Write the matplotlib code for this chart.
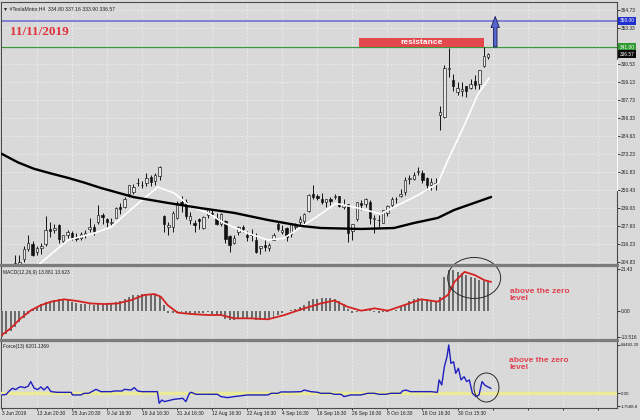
import numpy as np
import matplotlib
matplotlib.use("Agg")
import matplotlib.pyplot as plt
from matplotlib.patches import Ellipse, Rectangle, FancyArrowPatch
from matplotlib.lines import Line2D

# ---------------- data ----------------
opens = [185.0, 180.0, 194.0, 198.0, 203.0, 207.0, 213.0, 216.0, 211.0, 214.0,
         216.0, 226.0, 225.0, 228.0, 218.0, 222.0, 223.0, 221.0, 220.0, 222.0,
         226.0, 227.0, 230.0, 234.5, 232.0, 229.5, 233.0, 239.5, 240.0, 248.0,
         249.5, 255.0, 254.0, 255.0, 258.5, 256.0, 259.5, 234.0, 226.9, 227.1,
         232.9, 243.0, 242.7, 231.4, 229.6, 231.9, 226.5, 234.4, 236.1, 232.9,
         228.8, 231.0, 221.5, 216.7, 224.0, 227.3, 222.0, 222.8, 219.0, 213.6,
         215.7, 213.8, 219.0, 229.2, 224.1, 226.2, 222.5, 227.2, 230.0, 230.8,
         237.4, 247.8, 246.9, 245.0, 243.0, 245.0, 246.0, 246.5, 240.0, 241.5,
         224.5, 232.0, 242.0, 241.5, 243.0, 232.0, 231.6, 229.8, 235.8, 241.0,
         245.0, 247.0, 249.0, 257.7, 257.4, 262.0, 261.0, 258.0, 254.0, 254.5,
         298.0, 297.0, 327.5, 320.0, 313.0, 313.1, 316.3, 315.0, 319.6, 318.0,
         329.1, 334.8]
highs = [186.0, 194.0, 198.0, 209.0, 209.5, 215.0, 222.0, 218.0, 215.0, 217.0,
         234.0, 230.0, 229.0, 229.0, 222.0, 225.0, 224.5, 223.0, 224.0, 225.0,
         233.0, 229.0, 241.0, 236.0, 233.0, 233.0, 240.0, 242.0, 246.0, 254.0,
         254.5, 258.0, 256.0, 261.0, 260.0, 261.0, 266.0, 234.5, 230.0, 237.0,
         243.5, 246.7, 244.5, 236.3, 231.4, 232.5, 234.0, 239.0, 238.0, 235.8,
         236.0, 231.5, 221.8, 222.0, 227.9, 228.2, 224.5, 225.5, 223.5, 215.0,
         218.8, 217.0, 223.4, 230.0, 228.2, 226.8, 229.8, 229.6, 233.8, 235.9,
         248.0, 253.5, 248.1, 248.4, 245.0, 246.0, 248.0, 247.0, 245.0, 241.9,
         229.0, 243.0, 244.0, 245.5, 244.0, 234.5, 234.8, 238.0, 241.0, 246.0,
         246.2, 251.0, 258.5, 260.0, 262.1, 264.8, 263.0, 259.0, 258.3, 258.0,
         304.0, 330.0, 340.8, 324.0, 318.8, 319.0, 316.6, 321.2, 323.5, 326.7,
         341.0, 337.16]
lows = [176.5, 178.0, 190.0, 197.0, 202.0, 205.0, 212.0, 208.5, 209.0, 210.0,
        215.0, 221.0, 223.0, 217.0, 216.0, 220.0, 218.5, 218.0, 219.0, 220.0,
        224.0, 222.0, 229.0, 229.0, 227.0, 228.0, 232.5, 235.0, 239.0, 246.0,
        248.0, 253.0, 251.5, 253.0, 253.0, 254.0, 257.0, 224.0, 222.0, 224.0,
        232.0, 236.6, 231.8, 229.2, 224.1, 225.8, 225.5, 232.5, 233.8, 228.5,
        227.6, 216.7, 211.0, 216.0, 222.0, 224.0, 218.0, 218.0, 210.5, 209.9,
        212.0, 211.9, 218.7, 224.7, 222.6, 218.4, 220.9, 225.2, 227.7, 228.8,
        236.4, 244.5, 244.2, 241.9, 240.0, 241.0, 244.5, 239.5, 238.5, 217.5,
        219.0, 231.0, 238.0, 239.5, 229.0, 223.5, 226.5, 229.5, 234.0, 239.5,
        242.0, 246.0, 247.5, 254.1, 256.9, 260.1, 255.0, 250.8, 250.7, 250.6,
        288.6, 296.1, 322.0, 313.5, 310.5, 309.9, 309.5, 314.3, 314.7, 314.5,
        328.6, 333.9]
closes = [179.0, 193.6, 196.6, 204.5, 205.0, 212.9, 217.1, 209.3, 213.9, 214.9,
          225.0, 224.7, 226.4, 219.6, 221.9, 223.6, 219.8, 219.3, 222.8, 223.5,
          227.2, 224.6, 234.9, 233.1, 230.3, 230.1, 238.9, 238.6, 245.1, 253.5,
          252.4, 254.9, 253.5, 258.2, 255.7, 260.2, 264.9, 228.8, 228.0, 235.8,
          242.3, 241.6, 233.9, 234.3, 228.3, 230.8, 233.4, 238.3, 235.0, 229.0,
          235.0, 219.6, 215.6, 219.9, 226.8, 225.9, 220.8, 222.2, 211.4, 215.0,
          214.1, 215.6, 221.7, 225.6, 225.0, 220.7, 229.6, 227.5, 231.8, 235.5,
          247.1, 245.9, 245.2, 242.8, 244.8, 243.5, 246.6, 240.6, 241.2, 223.2,
          228.7, 242.6, 240.9, 244.7, 233.0, 233.0, 231.4, 237.7, 240.1, 244.5,
          244.7, 247.9, 257.0, 257.9, 259.8, 262.0, 257.0, 253.5, 255.6, 254.7,
          299.7, 328.1, 327.7, 316.2, 315.0, 314.9, 313.3, 317.5, 317.2, 326.6,
          335.5, 336.57]

# fast (white) and slow (black) moving averages: bar index / price
ma_fast_bar = [8.0, 9.6, 15.1, 21.0, 24.9, 30.1, 35.6, 39.3, 43.2, 47.0, 50.7, 56.2,
               60.7, 64.4, 68.3, 72.8, 76.2, 80.4, 86.5, 89.5, 95.0, 99.5, 101.8,
               105.3, 108.6, 111.2]
ma_fast_val = [202.0, 206.0, 218.8, 223.0, 227.0, 239.7, 252.4, 248.6, 239.7, 236.0,
               229.6, 223.0, 218.8, 220.0, 227.0, 235.3, 242.0, 239.7, 235.3, 239.7,
               247.3, 254.7, 269.5, 290.0, 311.0, 321.5]
ma_slow_bar = [0.0, 3.7, 7.3, 11.2, 15.1, 18.8, 22.6, 30.1, 37.9, 45.4, 53.0, 60.7,
               68.3, 72.8, 82.0, 89.5, 94.1, 99.5, 103.2, 107.8, 111.6]
ma_slow_val = [273.4, 268.0, 264.0, 261.0, 258.2, 255.2, 251.8, 246.0, 242.3, 239.0,
               236.0, 231.5, 227.7, 226.4, 225.8, 226.4, 229.6, 232.8, 237.8, 242.3,
               246.0]

price_ticks = [364.73, 353.33, 341.93, 330.53, 319.13, 307.73, 296.33, 284.63,
               273.23, 261.83, 250.43, 239.03, 227.63, 216.23, 204.83]
price_labels = ["364.73", "353.33", "", "330.53", "319.13", "307.73", "296.33", "284.63",
                "273.23", "261.83", "250.43", "239.03", "227.63", "216.23", "204.83"]
level_target = 358.00
level_resist = 341.00
last_price = 336.57

macd_hist = [-13.3, -11.8, -10.2, -8.5, -6.0, -3.5, -1.5, 0.8, 2.0, 3.5,
             4.5, 5.0, 5.6, 5.8, 6.1, 5.6, 4.6, 4.0, 3.6, 3.3,
             3.2, 2.9, 3.2, 3.3, 3.4, 3.6, 4.2, 5.2, 6.0, 7.0,
             7.8, 8.2, 8.5, 8.6, 8.4, 8.2, 7.4, 3.0, -1.0, -1.4,
             -1.0, -0.8, -1.0, -1.2, -1.5, -1.4, -1.0, -0.8, -1.5, -2.0,
             -2.8, -4.0, -5.0, -4.8, -4.2, -3.9, -3.8, -3.9, -4.5, -4.6,
             -4.5, -3.8, -3.0, -2.0, -1.0, -0.4, 0.5, 1.0, 1.8, 3.0,
             4.8, 5.8, 6.2, 6.3, 6.3, 6.3, 6.0, 5.0, 3.5, 1.0,
             -1.4, -0.5, 0.3, 0.5, 0.2, -0.5, -1.0, -0.8, -0.5, 0.0,
             0.5, 2.0, 3.5, 4.8, 5.8, 6.3, 6.2, 5.8, 5.2, 4.6,
             7.0, 17.0, 21.0, 20.8, 19.8, 19.2, 18.0, 17.3, 16.8, 15.8,
             15.2, 14.6]
signal_bar = [0.0, 2.0, 4.3, 6.7, 9.0, 11.3, 14.2, 17.3, 20.3, 23.4, 26.4, 29.5,
              32.5, 34.8, 36.3, 37.8, 40.1, 43.2, 47.0, 50.0, 53.0, 56.8, 60.7,
              64.5, 68.3, 72.8, 75.9, 78.9, 82.0, 85.1, 88.1, 91.9, 95.7, 99.5,
              101.8, 103.3, 105.6, 107.9, 110.1, 111.6]
signal_val = [-12.4, -9.0, -3.9, 0.3, 2.9, 4.6, 5.8, 4.9, 3.7, 3.4, 3.7, 5.4,
              8.0, 8.5, 7.1, 2.9, -1.0, -1.7, -2.2, -2.2, -3.9, -3.9, -4.4,
              -2.2, 0.7, 3.7, 5.2, 2.0, 0.0, 1.2, 0.0, 2.9, 5.8, 4.6,
              8.0, 14.7, 19.8, 18.2, 15.6, 14.7]
macd_ticks = [21.43, 0.0, -13.516]
macd_labels = ["21.43", "0.00", "-13.516"]

force_bar = [0.0, 1.0, 1.5, 2.4, 3.2, 3.6, 4.3, 5.2, 6.0, 6.6, 7.0, 7.4, 8.2, 8.9,
             9.6, 10.4, 11.2, 12.7, 15.8, 16.1, 18.0, 18.8, 19.8, 21.5, 22.6,
             25.0, 25.7, 27.4, 28.0, 29.5, 30.2, 31.0, 32.0, 35.5, 35.9, 36.5,
             37.1, 39.3, 41.3, 42.0, 42.8, 43.2, 44.3, 49.2, 50.0, 51.5, 53.0,
             56.1, 60.7, 61.5, 63.0, 63.7, 66.3, 68.3, 69.0, 70.5, 72.1, 72.8,
             75.0, 75.9, 77.4, 78.1, 79.6, 81.9, 83.5, 85.0, 86.1, 87.6, 88.8,
             91.0, 91.4, 92.2, 93.3, 97.9, 99.4, 99.8, 100.4, 101.0, 101.6,
             102.0, 102.5, 103.1, 103.6, 104.2, 104.8, 105.5, 106.1, 106.7,
             107.4, 108.2, 108.9, 109.6, 110.2, 110.8, 111.6]
force_val = [-2200, -1500, 2000, 6700, 5000, 7000, 8900, 7500, 9500, 15600, 11000,
             6700, 5000, 8500, 4500, 8900, 2200, 1300, 1300, -2200, -2200, 0, 0,
             5300, 2200, 2200, 3100, 3100, 5300, 4400, 7600, 3100, 2200, 2200,
             -13300, -9000, -11100, -8000, -6700, -11100, 0, 1300, -1300, -1300,
             -4400, -5800, -4400, -2200, -2200, 0, 0, 1800, 1800, 2200, 4400,
             2200, 1300, 0, 0, -1300, -1300, -4400, -2200, -2200, 0, 0, -1300,
             -1300, 0, 0, 3100, 4400, 2200, 2200, 1300, 17800, 11100, 35600,
             48900, 64500, 40000, 42000, 26700, 33400, 17800, 22200, 15600,
             17800, 0, -4400, -2200, 15600, 11100, 8900, 6700]
force_ticks = [64482.20, 0.0, -17588.8]
force_labels = ["64482.20", "0.00", "-17588.8"]

date_labels = ["3 Jun 2019", "13 Jun 20:30", "25 Jun 20:30", "9 Jul 16:30",
               "19 Jul 16:30", "31 Jul 16:30", "12 Aug 16:30", "22 Aug 16:30",
               "4 Sep 16:30", "16 Sep 16:30", "26 Sep 16:30", "8 Oct 16:30",
               "18 Oct 16:30", "30 Oct 15:30"]

# ---------------- figure ----------------
W, H = 640, 420
BG = "#d9d9d9"
plt.rcParams["font.family"] = ["Liberation Sans", "DejaVu Sans"]
fig = plt.figure(figsize=(W / 100, H / 100), dpi=100, facecolor=BG)

BARS_PER_LABEL = 8
grid_pos = [BARS_PER_LABEL * k for k in range(18)]
XMAX = 140.4
SMALL = 3.5


def panel(top, bottom, left=1, right=617, ysize=SMALL):
    a = fig.add_axes([left / W, 1 - bottom / H, (right - left) / W, (bottom - top) / H])
    a.set_facecolor(BG)
    for s in a.spines.values():
        s.set_color("#4a4a4a")
        s.set_linewidth(0.8)
    a.set_xlim(-0.2, XMAX)
    a.yaxis.tick_right()
    a.tick_params(axis="y", direction="out", length=1.8, width=0.6, pad=0.7,
                  labelsize=ysize, colors="#1e1e1e")
    a.set_xticks(grid_pos)
    a.tick_params(axis="x", length=0, labelbottom=False)
    a.grid(True, axis="x", color="#f4f4f4", lw=0.5, ls=(0, (2.5, 2.5)))
    a.set_axisbelow(True)
    return a


ax = panel(2, 264)
axm = panel(266, 339)
axf = panel(341, 408, ysize=3.2)

# ---- price panel ----
x = np.arange(len(closes))
o = np.array(opens); h = np.array(highs); l = np.array(lows); c = np.array(closes)
ax.set_ylim(203.56, 369.8)
ax.set_yticks(price_ticks)
ax.set_yticklabels(price_labels)
ax.grid(True, axis="y", color="#f4f4f4", lw=0.5, ls=(0, (2.5, 2.5)))

ax.axhline(level_target, color="#7a7ad6", lw=1.3, zorder=2)
ax.axhline(level_resist, color="#3c963c", lw=0.9, zorder=2)

ax.vlines(x, l, h, color="#111111", lw=0.7, zorder=3)
up = c >= o
ax.bar(x, np.maximum(np.abs(c - o), 0.3), bottom=np.minimum(o, c), width=0.55,
       color=np.where(up, "#e6e6e6", "#111111"), edgecolor="#111111",
       linewidth=0.45, zorder=4)

ax.plot(ma_fast_bar, ma_fast_val, color="white", lw=1.2, zorder=5)
ax.plot(ma_slow_bar, ma_slow_val, color="black", lw=1.7, zorder=5)

# resistance box and arrow
ax.add_patch(Rectangle((81.5, level_resist), 28.5, 6.0, fc="#e5474f", ec="none", zorder=6))
ax.text(95.75, level_resist + 3.0, "resistance", color="white", fontsize=6,
        fontweight="bold", ha="center", va="center", zorder=7)
ax.add_patch(FancyArrowPatch((112.6, level_resist + 0.3), (112.6, 360.6),
                             arrowstyle="simple,head_length=8,head_width=6,tail_width=2.6",
                             fc="#5666cf", ec="#1c1c55", lw=0.6, shrinkA=0, shrinkB=0,
                             zorder=7))

# right-side price tags
ytr = ax.get_yaxis_transform()
for val, fc in [(level_target, "#1f2fcf"), (level_resist, "#2f9a2f"), (last_price, "#0a0a0a")]:
    ax.text(1.004, val, f"{val:.2f}", transform=ytr, fontsize=SMALL, color="white",
            ha="left", va="center", clip_on=False, zorder=9,
            bbox=dict(boxstyle="square,pad=0.3", fc=fc, ec="none"))

# white segment on the right scale line
ax.plot([1, 1], [0.282, 0.779], transform=ax.transAxes, color="white", lw=0.9,
        clip_on=False, zorder=10)

ax.text(0.004, 0.985, "\u25bc #TeslaMotor,H4  334.80 337.16 333.90 336.57",
        transform=ax.transAxes, fontsize=3.7, color="#1e1e1e", ha="left", va="top",
        family=["Liberation Sans", "DejaVu Sans"])
ax.text(0.015, 0.885, "11/11/2019", transform=ax.transAxes, fontsize=9.5,
        fontweight="bold", family="Liberation Serif", color="#e0323c",
        ha="left", va="center")

# ---- MACD panel ----
axm.set_ylim(-14.44, 22.8)
axm.set_yticks(macd_ticks)
axm.set_yticklabels(macd_labels)
axm.bar(x, macd_hist, width=0.45, color="#6c6c6c", zorder=3)
axm.plot(signal_bar, signal_val, color="#d42222", lw=1.3, zorder=4)
axm.text(0.004, 0.95, "MACD(12,26,9) 13.881 13.623", transform=axm.transAxes,
         fontsize=SMALL, color="#1e1e1e", ha="left", va="top")
axm.add_patch(Ellipse((107.8, 16.7), 12.1, 20.9, fill=False, ec="#2a2a2a", lw=0.7,
                      clip_on=False, zorder=8))
axm.text(0.826, 0.60, "above the zero\nlevel", transform=axm.transAxes, fontsize=6,
         fontweight="bold", color="#e0404f", ha="left", va="center", linespacing=1.1)

# ---- Force panel ----
axf.set_ylim(-19625, 69820)
axf.set_yticks(force_ticks)
axf.set_yticklabels(force_labels)
axf.axhline(0, color="#ecec98", lw=2.4, zorder=3)
axf.plot(force_bar, force_val, color="#1f1fc0", lw=1.0, zorder=4)
axf.text(0.004, 0.95, "Force(13) 6201.1369", transform=axf.transAxes,
         fontsize=SMALL, color="#1e1e1e", ha="left", va="top")
axf.add_patch(Ellipse((110.6, 7740), 5.7, 38700, fill=False, ec="#2a2a2a", lw=0.7,
                      clip_on=False, zorder=8))
axf.text(0.825, 0.66, "above the zero\nlevel", transform=axf.transAxes, fontsize=6,
         fontweight="bold", color="#e0404f", ha="left", va="center", linespacing=1.1)

axf.set_xticks(grid_pos)
axf.set_xticklabels(date_labels + [""] * (len(grid_pos) - len(date_labels)))
axf.tick_params(axis="x", length=1.5, width=0.6, pad=0.8, labelbottom=True,
                labelsize=SMALL, colors="#1e1e1e")
for t in axf.get_xticklabels():
    t.set_ha("left")

# panel separators
for ysep in (265, 340):
    fig.add_artist(Line2D([0, 617 / W], [1 - ysep / H] * 2, color="#7c7c7c", lw=2.2))

fig.savefig("out.png", dpi=100, facecolor=BG)
